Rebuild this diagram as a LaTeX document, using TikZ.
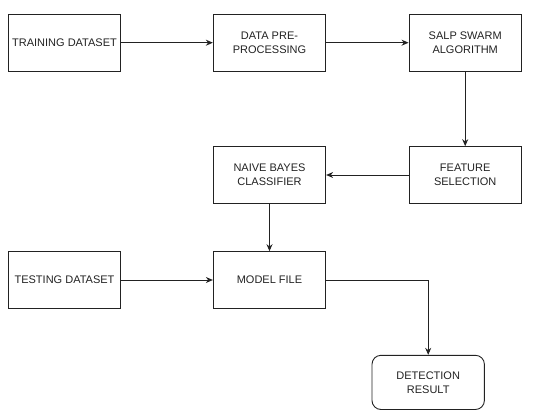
\documentclass[tikz,border=0pt]{standalone}
\usepackage{fontspec}
\setmainfont{Liberation Sans}
\usetikzlibrary{arrows.meta}
\definecolor{ink}{HTML}{222222}
\begin{document}
\begin{tikzpicture}[x=1pt,y=-1pt,
  box/.style={draw=ink,line width=0.9pt,minimum width=112.4pt,minimum height=56.7pt,inner sep=0pt,align=center,text=ink,font=\fontsize{11}{14}\selectfont},
  rbox/.style={box,rounded corners=9pt,minimum height=54.2pt},
  conn/.style={draw=ink,line width=0.9pt,-{Stealth[length=7pt,width=6pt]}}]
\useasboundingbox (0,0) rectangle (557,410);
\node[box] (train) at (64.5,42.7) {TRAINING DATASET};
\node[box] (pre) at (269.5,42.7) {DATA PRE-\\PROCESSING};
\node[box] (salp) at (465.2,42.7) {SALP SWARM\\ALGORITHM};
\node[box] (feat) at (465.2,175) {FEATURE\\SELECTION};
\node[box] (naive) at (269.5,175) {NAIVE BAYES\\CLASSIFIER};
\node[box] (test) at (64.5,280) {TESTING DATASET};
\node[box] (model) at (269.5,280) {MODEL FILE};
\node[rbox] (det) at (428.2,382.4) {DETECTION\\RESULT};
\draw[conn] (train) -- (pre);
\draw[conn] (pre) -- (salp);
\draw[conn] (salp) -- (feat);
\draw[conn] (feat) -- (naive);
\draw[conn] (naive) -- (model);
\draw[conn] (test) -- (model);
\draw[conn] (model.east) -| (det.north);
\end{tikzpicture}
\end{document}
